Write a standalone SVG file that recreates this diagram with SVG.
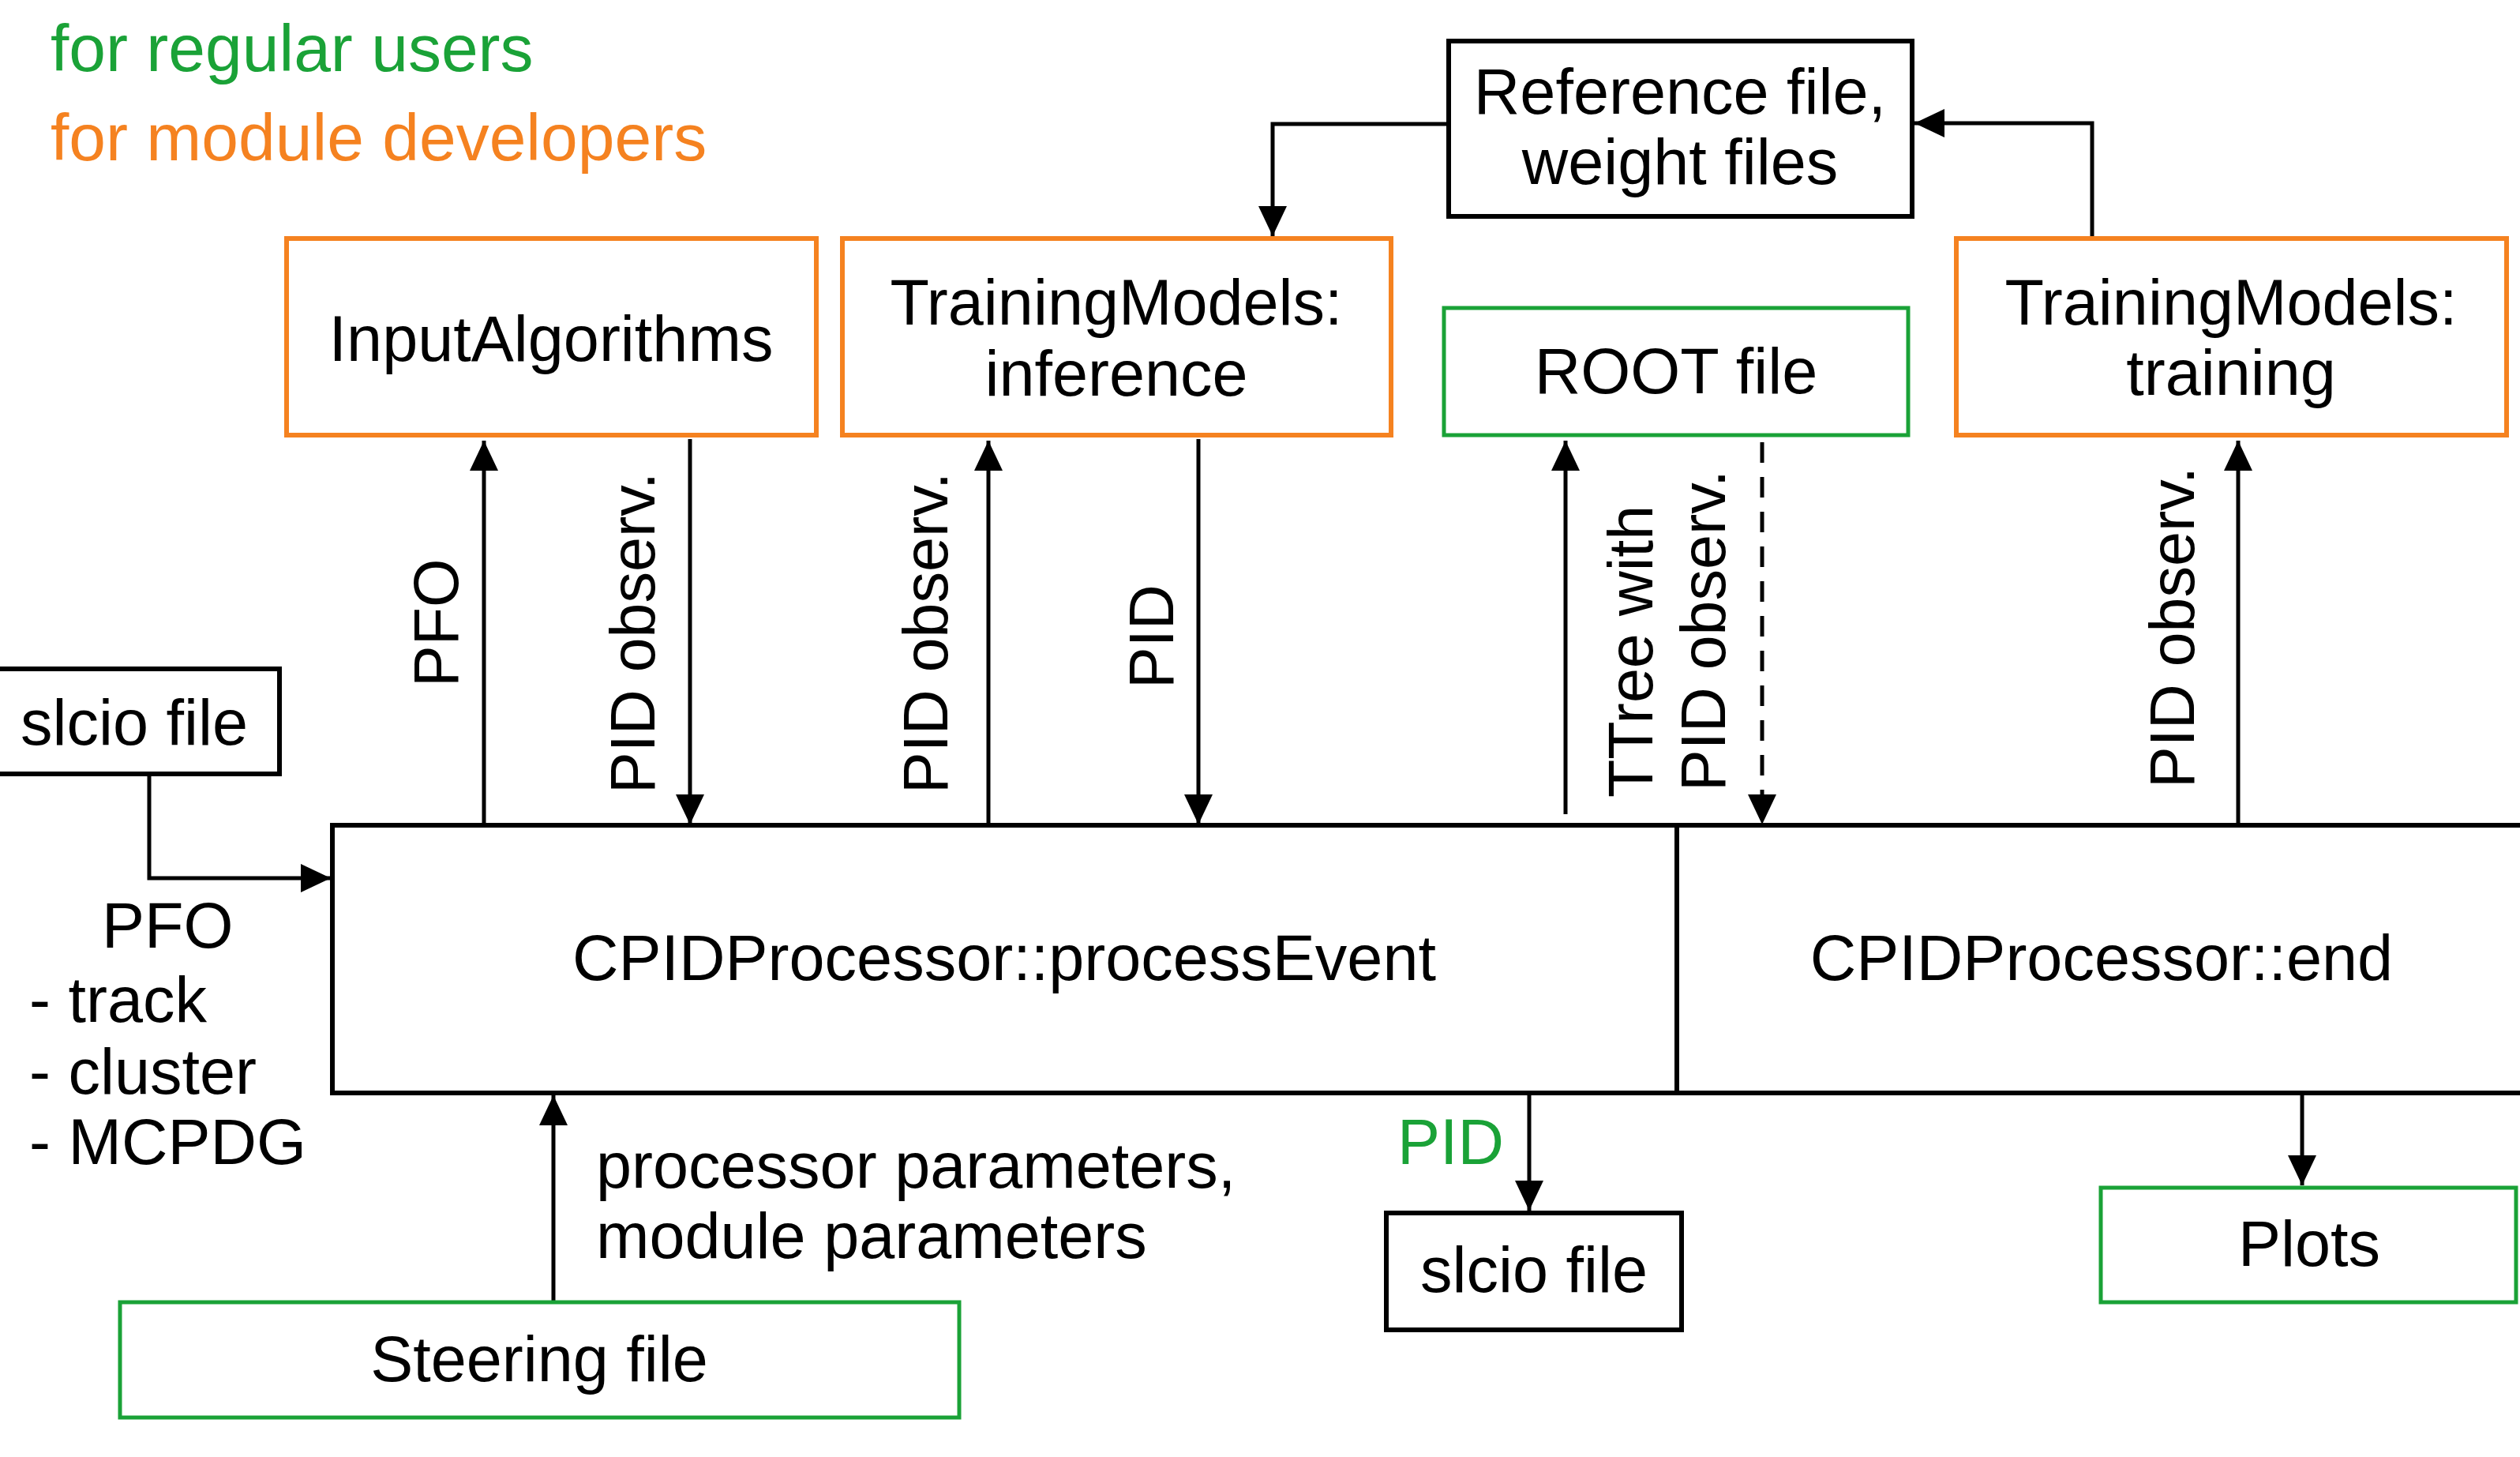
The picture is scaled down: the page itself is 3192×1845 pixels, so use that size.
<svg xmlns="http://www.w3.org/2000/svg" width="3192" height="1845" viewBox="0 0 3192 1845">
<style>
text{font-family:"Liberation Sans",Arial,sans-serif;font-size:81px;fill:#000}
.c{text-anchor:middle}
.lbl{font-size:79px}
.g{fill:#1aa237}
.o{fill:#f58220}
.bk{fill:#fff;stroke:#000;stroke-width:6}
.bo{fill:#fff;stroke:#f58220;stroke-width:6}
.bg{fill:#fff;stroke:#1aa237;stroke-width:5}
.ln{fill:none;stroke:#000;stroke-width:5}
.dash{stroke-dasharray:26 18}
</style>
<defs>
<marker id="ah" markerUnits="userSpaceOnUse" markerWidth="38" markerHeight="36" refX="38" refY="18" orient="auto" viewBox="0 0 38 36">
<path d="M0,0 L38,18 L0,36 z" fill="#000"/>
</marker>
</defs>
<rect width="3192" height="1845" fill="#fff"/>
<g id="legend">
<text x="64" y="90" class="g" style="font-size:84px">for regular users</text>
<text x="64" y="203" class="o" style="font-size:84px">for module developers</text>
</g>
<g id="connectors">
<path class="ln" d="M189,980 V1112 H419" marker-end="url(#ah)"/>
<path class="ln" d="M701,1649 V1387" marker-end="url(#ah)"/>
<path class="ln" d="M613,1045 V558" marker-end="url(#ah)"/>
<path class="ln" d="M874,556 V1044" marker-end="url(#ah)"/>
<path class="ln" d="M1252,1045 V558" marker-end="url(#ah)"/>
<path class="ln" d="M1518,556 V1044" marker-end="url(#ah)"/>
<path class="ln" d="M1983,1031 V558" marker-end="url(#ah)"/>
<path class="ln dash" d="M2232,560 V1044" marker-end="url(#ah)"/>
<path class="ln" d="M2835,1045 V558" marker-end="url(#ah)"/>
<path class="ln" d="M1835,157 H1612 V299" marker-end="url(#ah)"/>
<path class="ln" d="M2650,302 V156 H2425" marker-end="url(#ah)"/>
<path class="ln" d="M1937,1386 V1533" marker-end="url(#ah)"/>
<path class="ln" d="M2916,1386 V1501" marker-end="url(#ah)"/>
<text class="lbl" transform="translate(580,870) rotate(-90)">PFO</text>
<text class="lbl" transform="translate(829,1005) rotate(-90)">PID observ.</text>
<text class="lbl" transform="translate(1200,1005) rotate(-90)">PID observ.</text>
<text class="lbl" transform="translate(1486,872) rotate(-90)">PID</text>
<text class="lbl" transform="translate(2093,1010) rotate(-90)">TTree with</text>
<text class="lbl" transform="translate(2185,1002) rotate(-90)">PID observ.</text>
<text class="lbl" transform="translate(2779,998) rotate(-90)">PID observ.</text>
<text x="129" y="1200">PFO</text>
<text x="37" y="1294">- track</text>
<text x="37" y="1385">- cluster</text>
<text x="37" y="1474">- MCPDG</text>
<text x="755" y="1504">processor parameters,</text>
<text x="755" y="1593">module parameters</text>
<text x="1770" y="1474" class="g">PID</text>
</g>
<g id="inputAlgorithms">
<rect class="bo" x="363" y="302" width="671" height="249"/>
<text class="c" x="698" y="457">InputAlgorithms</text>
</g>
<g id="trainingInference">
<rect class="bo" x="1067" y="302" width="695" height="249"/>
<text class="c" x="1414" y="411">TrainingModels:</text>
<text class="c" x="1414" y="501">inference</text>
</g>
<g id="referenceFiles">
<rect class="bk" x="1835" y="52" width="587" height="222"/>
<text class="c" x="2128" y="144">Reference file,</text>
<text class="c" x="2128" y="233">weight files</text>
</g>
<g id="rootFile">
<rect class="bg" x="1829" y="390" width="588" height="161"/>
<text class="c" x="2123" y="498">ROOT file</text>
</g>
<g id="trainingTraining">
<rect class="bo" x="2478" y="302" width="697" height="249"/>
<text class="c" x="2826" y="411">TrainingModels:</text>
<text class="c" x="2826" y="500">training</text>
</g>
<g id="slcioIn">
<rect class="bk" x="-10" y="847" width="364" height="133"/>
<text class="c" x="170" y="943">slcio file</text>
</g>
<g id="processEvent">
<rect class="bk" x="421" y="1045" width="1703" height="339"/>
<text class="c" x="1272" y="1241">CPIDProcessor::processEvent</text>
</g>
<g id="processEnd">
<rect class="bk" x="2124" y="1045" width="1090" height="339"/>
<text class="c" x="2662" y="1241">CPIDProcessor::end</text>
</g>
<g id="slcioOut">
<rect class="bk" x="1756" y="1536" width="374" height="148"/>
<text class="c" x="1943" y="1636">slcio file</text>
</g>
<g id="plots">
<rect class="bg" x="2661" y="1504" width="526" height="145"/>
<text class="c" x="2925" y="1603">Plots</text>
</g>
<g id="steeringFile">
<rect class="bg" x="152" y="1649" width="1063" height="146"/>
<text class="c" x="683" y="1749">Steering file</text>
</g>
</svg>
